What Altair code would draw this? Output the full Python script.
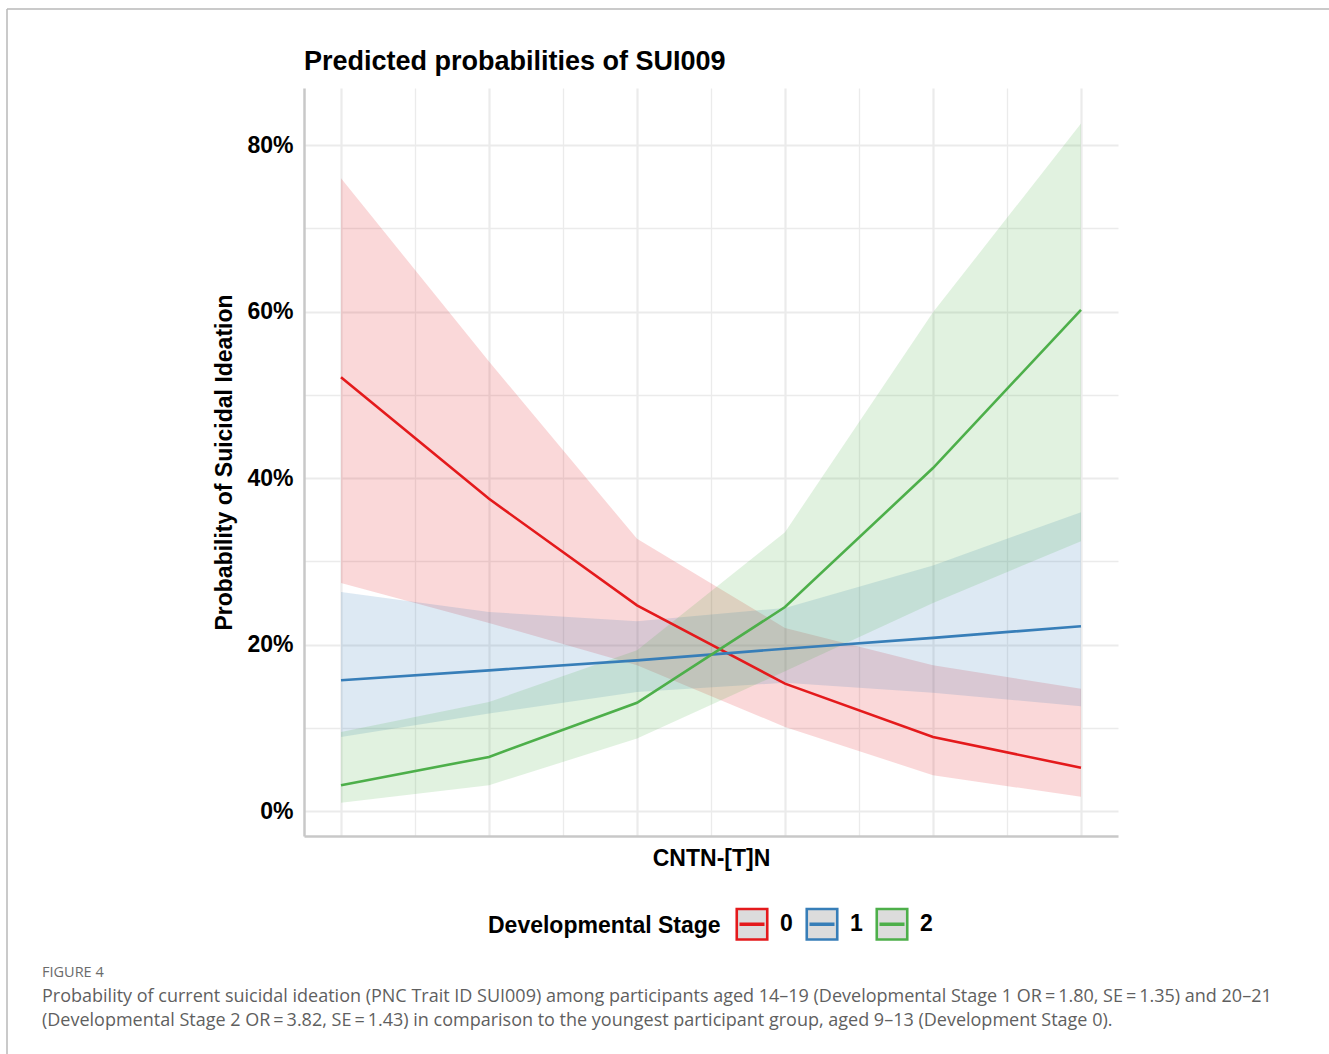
import altair as alt
import pandas as pd

# ---- data ----
x_pos = [0, 1, 2, 3, 4, 5]
stages = ["0", "1", "2"]
colors = ["#e41a1c", "#377eb8", "#4daf4a"]

fit_0 = [0.521, 0.375, 0.247, 0.153, 0.089, 0.052]
lo_0 = [0.274, 0.226, 0.175, 0.101, 0.043, 0.017]
hi_0 = [0.760, 0.540, 0.327, 0.220, 0.175, 0.147]

fit_1 = [0.157, 0.169, 0.181, 0.195, 0.208, 0.222]
lo_1 = [0.089, 0.117, 0.143, 0.154, 0.142, 0.126]
hi_1 = [0.263, 0.239, 0.228, 0.244, 0.295, 0.359]

fit_2 = [0.031, 0.065, 0.130, 0.245, 0.412, 0.602]
lo_2 = [0.010, 0.031, 0.087, 0.168, 0.250, 0.324]
hi_2 = [0.095, 0.131, 0.193, 0.335, 0.599, 0.826]

y_ticks = [0.0, 0.1, 0.2, 0.3, 0.4, 0.5, 0.6, 0.7, 0.8]
x_ticks = [0, 0.5, 1, 1.5, 2, 2.5, 3, 3.5, 4, 4.5, 5]

title_text = "Predicted probabilities of SUI009"
legend_title = "Developmental Stage"
figure_label = "FIGURE 4"
caption_text = (
    "Probability of current suicidal ideation (PNC Trait ID SUI009) among participants aged 14\u201319 "
    "(Developmental Stage 1 OR\u2009=\u20091.80, SE\u2009=\u20091.35) and 20\u201321\n"
    "(Developmental Stage 2 OR\u2009=\u20093.82, SE\u2009=\u20091.43) in comparison to the youngest participant "
    "group, aged 9\u201313 (Development Stage 0)."
)

rows = []
for s, f, lo, hi in zip(stages, [fit_0, fit_1, fit_2], [lo_0, lo_1, lo_2], [hi_0, hi_1, hi_2]):
    for xv, fv, lv, hv in zip(x_pos, f, lo, hi):
        rows.append({"x": xv, "stage": s, "band": s, "fit": fv, "lo": lv, "hi": hv})
df = pd.DataFrame(rows)

FONT = "Liberation Sans"
PLOT_W, PLOT_H = 814, 748
LEFT, TOP = 304, 88

xscale = alt.Scale(domain=[-0.25, 5.25], nice=False, zero=False)
yscale = alt.Scale(domain=[-0.030, 0.8685], nice=False, zero=False)

major_y = "abs(datum.value*5 - round(datum.value*5)) < 0.001"
major_x = "abs(datum.value - round(datum.value)) < 0.001"

x_axis = alt.Axis(
    values=x_ticks, labels=False, ticks=False, title="CNTN-[T]N",
    titleFont=FONT, titleFontSize=23, titleFontWeight="bold", titleColor="black",
    titlePadding=11, domainColor="#c8c8c8", domainWidth=2.5,
    gridColor="#ebebeb",
    gridWidth={"condition": {"test": major_x, "value": 2.2}, "value": 1.3},
)
y_axis = alt.Axis(
    values=y_ticks, ticks=False, title="Probability of Suicidal Ideation",
    labelExpr=f"{major_y} ? format(datum.value, '.0%') : ''",
    labelFont=FONT, labelFontSize=23, labelFontWeight="bold", labelColor="black",
    labelPadding=11,
    titleFont=FONT, titleFontSize=23, titleFontWeight="bold", titleColor="black",
    titlePadding=10, domainColor="#c8c8c8", domainWidth=2.5,
    gridColor="#ebebeb",
    gridWidth={"condition": {"test": major_y, "value": 2.2}, "value": 1.3},
)

base = alt.Chart(df)

# band fills: data-driven domain (field "band") so its legend is not merged with the line legend
bands = base.mark_area(opacity=0.17).encode(
    x=alt.X("x:Q", scale=xscale, axis=x_axis),
    y=alt.Y("lo:Q", scale=yscale, axis=y_axis),
    y2="hi:Q",
    fill=alt.Fill("band:N", scale=alt.Scale(range=colors), legend=None),
)

lines = base.mark_line(strokeWidth=2.6).encode(
    x=alt.X("x:Q", scale=xscale),
    y=alt.Y("fit:Q", scale=yscale),
    color=alt.Color(
        "stage:N", scale=alt.Scale(domain=stages, range=colors),
        legend=alt.Legend(
            orient="none", legendX=184, legendY=819, direction="horizontal",
            title=legend_title, titleOrient="left", titleLimit=400,
            titleFont=FONT, titleFontSize=23, titleFontWeight="bold", titleColor="black",
            titlePadding=14,
            labelFont=FONT, labelFontSize=23, labelFontWeight="bold", labelColor="black",
            labelOffset=11, columnPadding=8,
            symbolType="M-1,-1H1V1H-1Z M-0.82,0.03H0.82 M-0.82,-0.03H0.82", symbolSize=930,
            symbolStrokeWidth=2.6, symbolFillColor="#dcdcdc",
        ),
    ),
)

one = pd.DataFrame({"a": [0]})
frame_top = alt.Chart(one).mark_rule(color="#b9b9b9", strokeWidth=1.5).encode(
    x=alt.value(-297), x2=alt.value(1329 - LEFT), y=alt.value(-79)
)
frame_left = alt.Chart(one).mark_rule(color="#b9b9b9", strokeWidth=1.5).encode(
    x=alt.value(-297), y=alt.value(-79), y2=alt.value(1054 - TOP)
)

title_mark = alt.Chart(pd.DataFrame({"t": [title_text]})).mark_text(
    align="left", baseline="alphabetic", font=FONT, fontSize=27, fontWeight="bold", color="black"
).encode(text="t:N", x=alt.value(0), y=alt.value(70 - TOP))

fig_lab = alt.Chart(pd.DataFrame({"t": [figure_label]})).mark_text(
    align="left", baseline="middle", font="Open Sans", fontSize=14.5, color="#6b6b6b"
).encode(text="t:N", x=alt.value(42 - LEFT), y=alt.value(973 - TOP))

caption = alt.Chart(pd.DataFrame({"t": [caption_text]})).mark_text(
    align="left", baseline="middle", font="Open Sans", fontSize=18, color="#5f5f5f",
    lineBreak="\n", lineHeight=24,
).encode(text="t:N", x=alt.value(42 - LEFT), y=alt.value(997 - TOP))

chart = alt.layer(bands, lines, frame_top, frame_left, title_mark, fig_lab, caption).properties(
    width=PLOT_W, height=PLOT_H,
    autosize=alt.AutoSizeParams(type="none"),
    padding={"left": LEFT, "top": TOP, "right": 1329 - LEFT - PLOT_W, "bottom": 1054 - TOP - PLOT_H},
    background="white",
).resolve_scale(color="independent", fill="independent").configure_view(stroke=None)

chart.save("out.html", embed_options={"renderer": "svg", "actions": False})
